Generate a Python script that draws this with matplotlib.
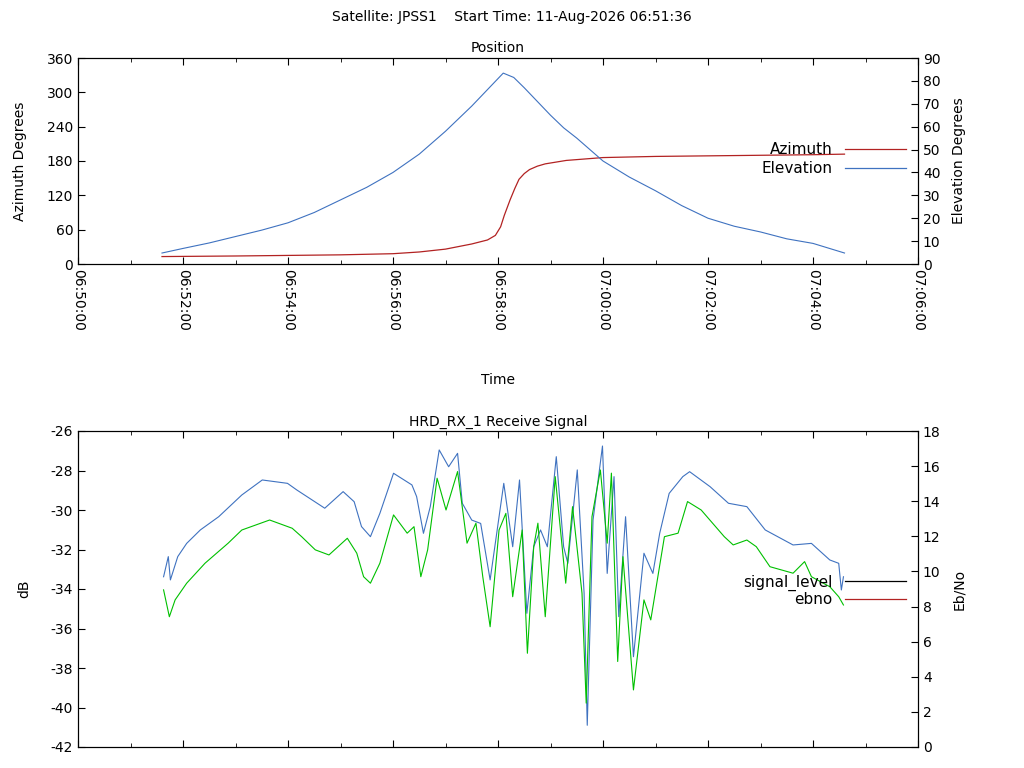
import numpy as np
import matplotlib.pyplot as plt
from matplotlib.lines import Line2D

# times in minutes after 06:50:00
az_t = [1.6, 3, 4, 5, 6, 6.5, 7, 7.5, 7.8, 7.95, 8.05, 8.12, 8.23, 8.32, 8.4, 8.5, 8.6, 8.75, 8.9, 9.3, 10, 11, 12, 13, 14, 14.6]
az_v = [13, 14, 15, 16, 18, 21, 26, 35, 42, 50, 65, 85, 112, 132, 148, 158, 165, 171, 175, 181, 186, 188, 189, 190, 191, 192]
el_t = [1.6, 2, 2.5, 3, 3.5, 4, 4.5, 5, 5.5, 6, 6.5, 7, 7.5, 7.75, 8, 8.1, 8.3, 8.5, 8.75, 9, 9.25, 9.5, 10,
        10.5, 11, 11.5, 12, 12.5, 13, 13.5, 14, 14.6]
el_v = [4.8, 6.8, 9.2, 12, 14.8, 18, 22.5, 28, 33.5, 40, 48, 58, 69, 75, 81, 83.4, 81.5, 77, 71, 65, 59.5, 55, 45,
        38, 32, 25.5, 20, 16.5, 14, 11, 9, 4.8]

sig_t = [1.63, 1.72, 1.76, 1.90, 2.07, 2.33, 2.68, 3.12, 3.51, 3.99, 4.17, 4.70, 5.05, 5.26, 5.40,
         5.57, 5.75, 6.01, 6.36, 6.45, 6.58, 6.71, 6.88, 7.06, 7.23, 7.32, 7.50, 7.67, 7.85, 8.11,
         8.28, 8.41, 8.55, 8.68, 8.81, 8.94, 9.11, 9.25, 9.33, 9.51, 9.64, 9.70, 9.81, 9.99, 10.08,
         10.21, 10.30, 10.43, 10.58, 10.78, 10.95, 11.08, 11.26, 11.52, 11.65, 12.04, 12.39, 12.74,
         13.09, 13.62, 13.97, 14.32, 14.49, 14.54, 14.58]
sig_v = [-33.38, -32.36, -33.54, -32.36, -31.69, -31.01, -30.34, -29.24, -28.48, -28.65, -28.99,
         -29.91, -29.07, -29.58, -30.84, -31.35, -30.17, -28.14, -28.73, -29.32, -31.18, -29.83,
         -26.96, -27.81, -27.13, -29.66, -30.51, -30.68, -33.54, -28.65, -31.86, -28.48, -35.23,
         -31.86, -31.01, -31.86, -27.30, -31.86, -32.70, -27.97, -34.22, -40.9, -30.51, -26.76,
         -33.21, -28.31, -35.40, -30.34, -37.43, -32.19, -33.21, -31.18, -29.16, -28.31, -28.06,
         -28.82, -29.66, -29.83, -31.01, -31.77, -31.69, -32.53, -32.70, -34.05, -33.38]

ebno_t = [1.63, 1.74, 1.85, 2.07, 2.42, 2.86, 3.12, 3.65, 4.08, 4.26, 4.52, 4.78, 5.13, 5.31, 5.44,
          5.57, 5.75, 6.01, 6.27, 6.40, 6.53, 6.66, 6.84, 7.01, 7.23, 7.41, 7.58, 7.71, 7.85, 8.02,
          8.15, 8.28, 8.46, 8.56, 8.68, 8.76, 8.90, 9.09, 9.29, 9.42, 9.60, 9.68, 9.79, 9.95, 10.08,
          10.16, 10.28, 10.38, 10.58, 10.78, 10.91, 11.17, 11.43, 11.61, 11.87, 12.31, 12.48, 12.74,
          12.92, 13.18, 13.62, 13.84, 13.97, 14.32, 14.49, 14.58]
ebno_v = [8.95, 7.42, 8.38, 9.33, 10.47, 11.61, 12.36, 12.93, 12.46, 11.98, 11.23, 10.94, 11.89,
          11.04, 9.70, 9.33, 10.47, 13.22, 12.18, 12.55, 9.70, 11.23, 15.31, 13.50, 15.69, 11.61,
          12.75, 9.70, 6.85, 12.36, 13.31, 8.56, 12.36, 5.34, 11.41, 12.75, 7.42, 15.40, 9.33, 13.69,
          8.76, 2.5, 13.12, 15.78, 11.61, 15.60, 4.87, 10.84, 3.25, 8.38, 7.24, 11.98, 12.18, 13.98,
          13.50, 11.98, 11.51, 11.79, 11.41, 10.27, 9.90, 10.56, 9.70, 9.13, 8.56, 8.09]

tick_labels = ['06:50:00', '06:52:00', '06:54:00', '06:56:00', '06:58:00',
               '07:00:00', '07:02:00', '07:04:00', '07:06:00']

RED = '#b22222'
BLUE = '#3f72c0'
GREEN = '#00c000'
plt.rcParams['font.size'] = 10
plt.rcParams['axes.unicode_minus'] = False

fig = plt.figure(figsize=(10.24, 7.68), dpi=100)
fig.text(0.5, 1 - 17 / 768, 'Satellite: JPSS1    Start Time: 11-Aug-2026 06:51:36', ha='center', va='center')

def style(ax):
    ax.tick_params(direction='in', which='both', top=True, length=5)
    ax.tick_params(which='minor', length=3)

ax1 = fig.add_axes([78 / 1024, 1 - 264 / 768, 840 / 1024, 206 / 768])
ax1.plot(az_t, az_v, color=RED, lw=0.9)
ax1.set_xlim(0, 16)
ax1.set_ylim(0, 360)
ax1.set_yticks(range(0, 361, 60))
ax1.set_xticks(range(0, 17, 2))
ax1.set_xticks(range(0, 17, 1), minor=True)
ax1.set_xticklabels(tick_labels, rotation=270)
ax1.set_ylabel('Azimuth Degrees', labelpad=14)
ax1.set_xlabel('Time', labelpad=30)
ax1.set_title('Position', fontsize=10, pad=4)
style(ax1)
ax1b = ax1.twinx()
ax1b.plot(el_t, el_v, color=BLUE, lw=0.8)
ax1b.set_ylim(0, 90)
ax1b.set_yticks(range(0, 91, 10))
ax1b.set_ylabel('Elevation Degrees', labelpad=8)
ax1b.tick_params(direction='in', length=5)
ax1b.legend([Line2D([], [], color=RED, lw=0.9), Line2D([], [], color=BLUE, lw=0.9)],
            ['Azimuth', 'Elevation'], loc='upper right', bbox_to_anchor=(0.995, 0.63),
            frameon=False, markerfirst=False, handlelength=4, labelspacing=0.3,
            borderpad=0, fontsize=11)

ax2 = fig.add_axes([78 / 1024, 1 - 747 / 768, 840 / 1024, 316 / 768])
ax2.plot(sig_t, sig_v, color=BLUE, lw=0.8)
ax2.set_xlim(0, 16)
ax2.set_ylim(-42, -26)
ax2.set_yticks(range(-42, -25, 2))
ax2.set_xticks(range(0, 17, 2))
ax2.set_xticks(range(0, 17, 1), minor=True)
ax2.set_xticklabels([])
ax2.set_ylabel('dB', labelpad=14)
ax2.set_title('HRD_RX_1 Receive Signal', fontsize=10, pad=4)
style(ax2)
ax2b = ax2.twinx()
ax2b.plot(ebno_t, ebno_v, color=GREEN, lw=0.8)
ax2b.set_ylim(0, 18)
ax2b.set_yticks(range(0, 19, 2))
ax2b.set_ylabel('Eb/No', labelpad=8)
ax2b.tick_params(direction='in', length=5)
ax2b.legend([Line2D([], [], color='black', lw=0.9), Line2D([], [], color=RED, lw=0.9)],
            ['signal_level', 'ebno'], loc='upper right', bbox_to_anchor=(0.995, 0.57),
            frameon=False, markerfirst=False, handlelength=4, labelspacing=0.1,
            borderpad=0, fontsize=11)

fig.savefig('out.png')
